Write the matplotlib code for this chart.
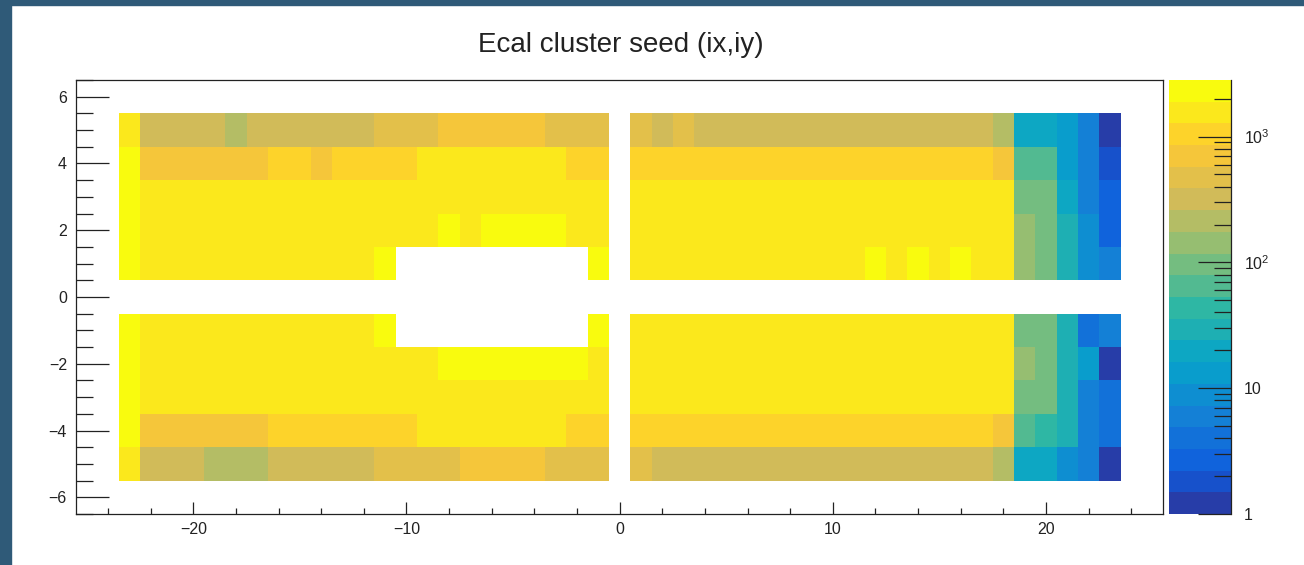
import numpy as np
import matplotlib
matplotlib.use("Agg")
import matplotlib.pyplot as plt
from matplotlib.colors import ListedColormap, BoundaryNorm
from matplotlib.patches import Rectangle
from matplotlib.ticker import FixedLocator, FixedFormatter, MultipleLocator, NullFormatter

plt.rcParams['font.family'] = ['Liberation Sans', 'DejaVu Sans']
plt.rcParams['mathtext.default'] = 'regular'

# Crystal indices: ix = -23..-1, 1..23 ; iy rows from top (5) to bottom (-5)
ix_values = list(range(-23, 0)) + list(range(1, 24))
iy_values = [5, 4, 3, 2, 1, -1, -2, -3, -4, -5]

# Seed counts per row (None = no crystal / beam gap)
row_iy_p5 = [1520, 318, 325, 331, 322, 212, 318, 326, 330, 324, 321, 327, 465, 472, 468, 705, 712, 698, 690, 701, 462, 470, 458,
             468, 322, 471, 326, 331, 319, 328, 333, 325, 320, 327, 330, 324, 318, 329, 332, 321, 214, 21, 20, 13, 6, 1]
row_iy_p4 = [2210, 695, 702, 688, 710, 699, 705, 1045, 1060, 702, 1052, 1048, 1039, 1061, 1560, 1575, 1548, 1590, 1566, 1571, 1555, 1058, 1049,
             1050, 1062, 1047, 1055, 1041, 1058, 1066, 1052, 1044, 1059, 1061, 1048, 1053, 1046, 1057, 1063, 1040, 712, 64, 66, 13, 6, 2]
row_iy_p3 = [2230, 1562, 1588, 1541, 1607, 1573, 1619, 1550, 1596, 1534, 1581, 1612, 1567, 1590, 1548, 1603, 1575, 1559, 1621, 1584, 1537, 1599, 1566,
             1578, 1593, 1552, 1610, 1569, 1587, 1544, 1601, 1563, 1595, 1571, 1608, 1556, 1583, 1598, 1561, 1605, 1574, 96, 94, 20, 6, 3]
row_iy_p2 = [2240, 1571, 1594, 1558, 1602, 1566, 1589, 1547, 1611, 1575, 1583, 1560, 1598, 1552, 1586, 2190, 1590, 2210, 2250, 2230, 2205, 1575, 1585,
             1582, 1567, 1599, 1553, 1591, 1574, 1606, 1560, 1588, 1545, 1597, 1570, 1584, 1563, 1609, 1577, 1592, 1556, 142, 95, 31, 9, 3]
row_iy_p1 = [2220, 1589, 1571, 1604, 1556, 1593, 1578, 1612, 1549, 1585, 1566, 1597, 2180,
             None, None, None, None, None, None, None, None, None, 2170,
             1590, 1573, 1608, 1559, 1586, 1600, 1565, 1594, 1551, 1582, 1611, 2210, 1600, 2230, 1610, 2200, 1620, 1615, 141, 96, 30, 9, 6]
row_iy_m1 = [2235, 1575, 1598, 1562, 1606, 1581, 1553, 1592, 1569, 1610, 1577, 1588, 2195,
             None, None, None, None, None, None, None, None, None, 2185,
             1584, 1561, 1597, 1570, 1603, 1548, 1589, 1576, 1611, 1557, 1594, 1580, 1567, 1602, 1585, 1553, 1599, 1572, 95, 93, 30, 4, 6]
row_iy_m2 = [2215, 1580, 1563, 1601, 1574, 1590, 1547, 1608, 1569, 1586, 1555, 1597, 1572, 1604, 1561, 2200, 2215, 2185, 2240, 2225, 2195, 2210, 1590,
             1573, 1595, 1558, 1604, 1581, 1566, 1600, 1549, 1587, 1612, 1570, 1593, 1562, 1598, 1576, 1607, 1554, 1589, 140, 95, 29, 13, 1]
row_iy_m3 = [2225, 1581, 1566, 1602, 1574, 1591, 1550, 1609, 1568, 1585, 1557, 1596, 1573, 1605, 1562, 1588, 1546, 1599, 1577, 1610, 1564, 1593, 1571,
             1586, 1569, 1603, 1555, 1592, 1578, 1610, 1563, 1597, 1548, 1584, 1606, 1571, 1594, 1559, 1600, 1575, 1589, 94, 96, 31, 6, 4]
row_iy_m4 = [2200, 698, 706, 691, 712, 700, 695, 1048, 1056, 1041, 1063, 1052, 1045, 1059, 1562, 1578, 1551, 1594, 1569, 1583, 1557, 1051, 1044,
             1053, 1046, 1061, 1049, 1058, 1042, 1065, 1050, 1055, 1047, 1060, 1043, 1057, 1051, 1064, 1045, 1054, 705, 66, 45, 30, 6, 4]
row_iy_m5 = [1530, 321, 316, 327, 214, 209, 218, 322, 329, 318, 325, 331, 469, 474, 463, 471, 703, 696, 709, 700, 466, 472, 460,
             470, 322, 328, 317, 330, 324, 319, 326, 333, 321, 327, 318, 329, 325, 320, 331, 323, 214, 20, 21, 9, 6, 1]

rows = [row_iy_p5, row_iy_p4, row_iy_p3, row_iy_p2, row_iy_p1,
        row_iy_m1, row_iy_m2, row_iy_m3, row_iy_m4, row_iy_m5]

# Histogram grid: 47 x bins (-23.5..23.5), 11 y bins (-5.5..5.5)
x_edges = np.arange(-23.5, 24.0, 1.0)
y_edges = np.arange(-5.5, 6.0, 1.0)
grid = np.full((len(y_edges) - 1, len(x_edges) - 1), np.nan)
for iy, row in zip(iy_values, rows):
    for ix, v in zip(ix_values, row):
        if v is not None:
            grid[iy + 5, ix + 23] = v
grid = np.ma.masked_invalid(grid)

# Bird palette, 20 log-spaced contour levels
stops = [0.0, 0.125, 0.25, 0.375, 0.5, 0.625, 0.75, 0.875, 1.0]
red = [0.2082, 0.0592, 0.0780, 0.0232, 0.1802, 0.5301, 0.8186, 0.9956, 0.9764]
green = [0.1664, 0.3599, 0.5041, 0.6419, 0.7178, 0.7492, 0.7328, 0.7862, 0.9832]
blue = [0.5293, 0.8684, 0.8385, 0.7914, 0.6425, 0.4662, 0.3499, 0.1968, 0.0539]
n_levels = 20
band_colors = []
for i in range(n_levels):
    p = int((i + 0.99) * 255 / n_levels) / 254.0
    band_colors.append((np.interp(p, stops, red), np.interp(p, stops, green), np.interp(p, stops, blue)))
cmap = ListedColormap(band_colors)
zmin, zmax = 1.0, 10 ** 3.45
levels = np.logspace(np.log10(zmin), np.log10(zmax), n_levels + 1)
norm = BoundaryNorm(levels, n_levels)

fig = plt.figure(figsize=(13.04, 5.65), dpi=100)

# Window frame
frame_col = '#2F5A78'
fig.patches.append(Rectangle((0, 0), 11 / 1304, 1, transform=fig.transFigure, color=frame_col, zorder=0))
fig.patches.append(Rectangle((0, 1 - 5 / 565), 1, 5 / 565, transform=fig.transFigure, color=frame_col, zorder=0))

ax = fig.add_axes([76 / 1304, 1 - 514 / 565, (1163.3 - 76) / 1304, (514 - 80) / 565])
ax.pcolormesh(x_edges, y_edges, grid, cmap=cmap, norm=norm, edgecolors='none', antialiased=False)
ax.set_xlim(-25.5, 25.5)
ax.set_ylim(-6.5, 6.5)
ax.xaxis.set_major_locator(MultipleLocator(10))
ax.xaxis.set_minor_locator(MultipleLocator(2))
ax.yaxis.set_major_locator(MultipleLocator(2))
ax.yaxis.set_minor_locator(MultipleLocator(0.5))
ax.tick_params(axis='both', which='both', direction='in', colors='#222222', labelcolor='#222222',
               width=0.9, labelsize=11.5)
ax.tick_params(axis='x', which='major', length=8.9, pad=6)
ax.tick_params(axis='x', which='minor', length=4.1)
ax.tick_params(axis='y', which='major', length=23.8, pad=6.5)
ax.tick_params(axis='y', which='minor', length=12)
for s in ax.spines.values():
    s.set_linewidth(0.9)
    s.set_color('#222222')

# Palette axis
cax = fig.add_axes([1169.3 / 1304, 1 - 514 / 565, (1231 - 1169.3) / 1304, (514 - 80) / 565])
band_mid = np.sqrt(levels[:-1] * levels[1:]).reshape(-1, 1)
cax.pcolormesh([0, 1], levels, band_mid, cmap=cmap, norm=norm, edgecolors='none', antialiased=False)
cax.set_yscale('log')
cax.set_ylim(zmin, zmax)
cax.set_xlim(0, 1)
cax.set_xticks([])
for side in ['left', 'top', 'bottom']:
    cax.spines[side].set_visible(False)
cax.spines['right'].set_linewidth(0.9)
cax.spines['right'].set_color('#222222')
cax.yaxis.tick_right()
cax.yaxis.set_major_locator(FixedLocator([1, 10, 100, 1000]))
cax.yaxis.set_major_formatter(FixedFormatter(['1', '10', r'$10^{2}$', r'$10^{3}$']))
minor_ticks = [m * 10 ** d for d in range(0, 4) for m in range(2, 10) if m * 10 ** d < zmax]
cax.yaxis.set_minor_locator(FixedLocator(minor_ticks))
cax.yaxis.set_minor_formatter(NullFormatter())
cax.tick_params(axis='y', which='both', direction='in', colors='#222222', labelcolor='#222222',
                width=0.9, labelsize=11.5, pad=9)
cax.tick_params(axis='y', which='major', length=23.8)
cax.tick_params(axis='y', which='minor', length=12)

fig.text(620.5 / 1304, 1 - 45 / 565, 'Ecal cluster seed (ix,iy)', ha='center', va='center',
         fontsize=20, color='#222222')

fig.savefig('out.png', dpi=100)
